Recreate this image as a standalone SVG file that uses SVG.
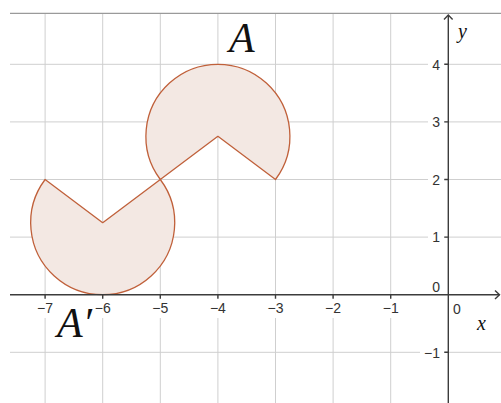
<svg xmlns="http://www.w3.org/2000/svg" width="501" height="403" viewBox="0 0 501 403">
<style>
.grid{stroke:#cfcfcf;stroke-width:1;fill:none}
.axis{stroke:#3c3c3c;stroke-width:1.4;fill:none}
.tick{font-family:"Liberation Sans",Arial,sans-serif;font-size:14px;fill:#333}
.mask{fill:#fff}
.sector{fill:#f3e8e3;stroke:#c0603a;stroke-width:1.3;stroke-linejoin:round}
.math{font-family:"Liberation Serif","Times New Roman",serif;font-style:italic;fill:#111}
</style>
<rect width="501" height="403" fill="#fff"/>
<g id="grid">
<path class="grid" d="M45.1,13.3V403M102.7,13.3V403M160.3,13.3V403M217.9,13.3V403M275.5,13.3V403M333.1,13.3V403M390.7,13.3V403M10,64.3H501M10,121.9H501M10,179.5H501M10,237.1H501M10,352.3H501"/>
<path d="M10,13.3H501" stroke="#9a9a9a" stroke-width="1.3"/>
</g>
<g id="tick-label-masks">
<rect class="mask" x="34" y="298" width="22" height="20"/>
<rect class="mask" x="91" y="298" width="22" height="20"/>
<rect class="mask" x="149" y="298" width="22" height="20"/>
<rect class="mask" x="207" y="298" width="22" height="20"/>
<rect class="mask" x="264" y="298" width="22" height="20"/>
<rect class="mask" x="322" y="298" width="22" height="20"/>
<rect class="mask" x="380" y="298" width="22" height="20"/>
<rect class="mask" x="428" y="56" width="16" height="17"/>
<rect class="mask" x="428" y="114" width="16" height="17"/>
<rect class="mask" x="428" y="171" width="16" height="17"/>
<rect class="mask" x="428" y="229" width="16" height="17"/>
<rect class="mask" x="420" y="344" width="24" height="17"/>
</g>
<g id="shape-A">
<path class="sector" d="M217.9,136.3L275.5,179.5A72,72 0 1 0 160.3,179.5Z"/>
</g>
<g id="shape-A-prime">
<path class="sector" d="M102.7,222.7L160.3,179.5A72,72 0 1 1 45.1,179.5Z"/>
</g>
<g id="axes">
<path class="axis" d="M10,294.7H499.5M448.3,403V15"/>
<path class="axis" d="M444,19.5L448.3,15L452.6,19.5M495,290.4L499.5,294.7L495,299"/>
<path class="axis" stroke-width="1" d="M45.1,294.7v4M102.7,294.7v4M160.3,294.7v4M217.9,294.7v4M275.5,294.7v4M333.1,294.7v4M390.7,294.7v4M448.3,64.3h-4M448.3,121.9h-4M448.3,179.5h-4M448.3,237.1h-4M448.3,352.3h-4"/>
</g>
<g id="tick-labels" class="tick">
<text x="45.1" y="313" text-anchor="middle">−7</text>
<text x="102.7" y="313" text-anchor="middle">−6</text>
<text x="160.3" y="313" text-anchor="middle">−5</text>
<text x="217.9" y="313" text-anchor="middle">−4</text>
<text x="275.5" y="313" text-anchor="middle">−3</text>
<text x="333.1" y="313" text-anchor="middle">−2</text>
<text x="390.7" y="313" text-anchor="middle">−1</text>
<text x="440" y="69.5" text-anchor="end">4</text>
<text x="440" y="127" text-anchor="end">3</text>
<text x="440" y="184.5" text-anchor="end">2</text>
<text x="440" y="242" text-anchor="end">1</text>
<text x="440" y="357.5" text-anchor="end">−1</text>
<text x="440" y="292" text-anchor="end">0</text>
<text x="453" y="314">0</text>
</g>
<g id="labels" class="math">
<text x="229" y="52" font-size="42">A</text>
<text x="57" y="337" font-size="42">A′</text>
<text x="458" y="38" font-size="20">y</text>
<text x="477" y="330" font-size="20">x</text>
</g>
</svg>
